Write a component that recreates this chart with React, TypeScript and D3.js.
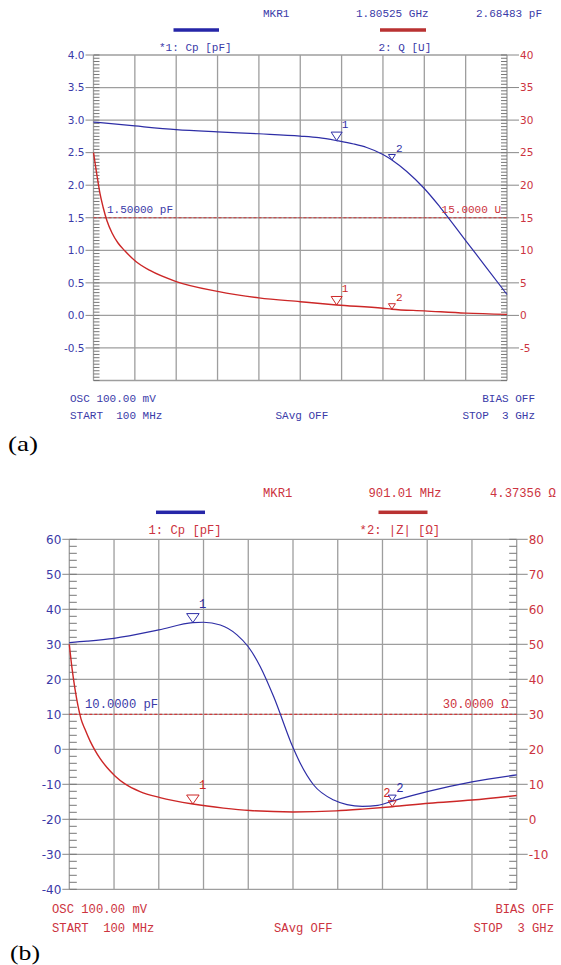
import React from 'react';
import * as d3 from 'd3';

// ---------- data ----------
const FREQ_START = 100; // MHz
const FREQ_STOP = 3000; // MHz
const gridFreqs = [100, 390, 680, 970, 1260, 1550, 1840, 2130, 2420, 2710, 3000];

// Panel (a): Cp [pF] (left axis), Q [U] (right axis)
const cpA_freq = [100, 390, 680, 970, 1260, 1550, 1680, 1805.25, 1925, 2016, 2130, 2193, 2297, 2420, 2530, 2710, 2850, 3000];
const cpA_val = [2.97, 2.91, 2.855, 2.82, 2.79, 2.755, 2.73, 2.685, 2.633, 2.579, 2.472, 2.387, 2.21, 1.949, 1.665, 1.15, 0.751, 0.321];
const qA_freq = [100, 125, 146, 167, 195, 230, 272, 321, 397, 496, 680, 970, 1260, 1550, 1805.25, 2130, 2193, 2420, 2710, 3000];
const qA_val = [25.0, 21.4, 18.65, 16.65, 14.5, 12.66, 11.12, 9.89, 8.28, 6.9, 5.2, 3.7, 2.7, 2.1, 1.6, 1.1, 0.95, 0.7, 0.35, 0.15];
const leftTicksA = [4.0, 3.5, 3.0, 2.5, 2.0, 1.5, 1.0, 0.5, 0.0, -0.5];
const rightTicksA = [40, 35, 30, 25, 20, 15, 10, 5, 0, -5];
const leftDomainA = [-1, 4];
const rightDomainA = [-10, 40];
const refA = 1.5;
const markerFreqA = [1805.25, 2193];

// Panel (b): Cp [pF] (left axis), |Z| [Ω] (right axis)
const cpB_freq = [100, 215, 390, 680, 901.01, 970, 1079, 1187, 1260, 1338, 1425, 1548, 1597, 1684, 1814, 1900, 2000, 2100, 2193, 2420, 2710, 3000];
const cpB_val = [30.5, 30.9, 31.7, 34.1, 36.2, 36.3, 35.5, 32.7, 29.3, 23.6, 15.0, 0.7, -4.0, -10.2, -14.5, -15.8, -16.3, -16.0, -14.8, -12.1, -9.3, -7.3];
const zB_freq = [100, 117.5, 137, 156.4, 175.8, 201.8, 234.2, 266.6, 299, 344.4, 396.3, 461, 558.3, 688, 901.01, 1100, 1271, 1550, 1829, 2000, 2193, 2432, 2710, 3000];
const zB_val = [50, 43.2, 37.2, 32.4, 28.7, 25.7, 22.4, 19.7, 17.4, 14.8, 12.4, 10.1, 7.9, 6.2, 4.37, 3.2, 2.5, 2.1, 2.4, 2.9, 3.6, 4.6, 5.5, 6.8];
const leftTicksB = [60, 50, 40, 30, 20, 10, 0, -10, -20, -30, -40];
const rightTicksB = [80, 70, 60, 50, 40, 30, 20, 10, 0, -10];
const leftDomainB = [-40, 60];
const rightDomainB = [-20, 80];
const refB = 10;
const markerFreqB = [901.01, 2193];

// ---------- style ----------
const BLUE = '#2e2ea6';
const BLUE_T = '#3a3aa8';
const RED = '#cc2727';
const RED_T = '#cc3340';
const GRID = '#9e9e9e';
const MONO = '"Liberation Mono", "DejaVu Sans Mono", monospace';
const SANS = '"DejaVu Sans", Verdana, sans-serif';

type Txt = { t: string; x: number; y: number; anchor?: string; color: string };

function Panel(p: any) {
  const x = d3.scaleLinear().domain([FREQ_START, FREQ_STOP]).range([p.L, p.R]);
  const yl = d3.scaleLinear().domain(p.leftDomain).range([p.B, p.T]);
  const yr = d3.scaleLinear().domain(p.rightDomain).range([p.B, p.T]);
  const lineL = d3.line<number>().x((_, i) => x(p.leftF[i])).y(d => yl(d)).curve(d3.curveMonotoneX);
  const lineR = d3.line<number>().x((_, i) => x(p.rightF[i])).y(d => yr(d)).curve(d3.curveMonotoneX);

  const hLines = d3.range(p.leftDomain[0], p.leftDomain[1] + 1e-9, p.leftStep);
  const minorStep = p.leftStep / p.minorPer;
  const minors = d3.range(p.leftDomain[0], p.leftDomain[1] + 1e-9, minorStep);

  const tri = (cx: number, cy: number, w: number, h: number) =>
    `M${cx - w / 2},${cy - h}L${cx + w / 2},${cy - h}L${cx},${cy}Z`;

  const markers: any[] = [];
  p.markerF.forEach((mf: number, mi: number) => {
    const big = mi === 0;
    const iL = p.leftF.indexOf(mf);
    const iR = p.rightF.indexOf(mf);
    markers.push({ cx: x(mf), cy: yl(p.leftV[iL]), color: BLUE, big, label: String(mi + 1), dx: p.lblDx[0][mi] });
    markers.push({ cx: x(mf), cy: yr(p.rightV[iR]), color: RED, big, label: String(mi + 1), dx: p.lblDx[1][mi] });
  });

  return (
    <g>
      {gridFreqs.map((f, i) => (
        <line key={'v' + i} x1={x(f)} x2={x(f)} y1={p.T} y2={p.B} stroke={GRID} strokeWidth={1.3} />
      ))}
      {hLines.map((v: number, i: number) => (
        <line key={'h' + i} x1={p.L} x2={p.R} y1={yl(v)} y2={yl(v)} stroke={GRID} strokeWidth={1.3} />
      ))}
      {minors.map((v: number, i: number) => (
        <g key={'m' + i}>
          <line x1={p.L} x2={p.L + p.minorLen} y1={yl(v)} y2={yl(v)} stroke="#777" strokeWidth={1} />
          <line x1={p.R - p.minorLen} x2={p.R} y1={yl(v)} y2={yl(v)} stroke="#777" strokeWidth={1} />
        </g>
      ))}
      {p.leftTicks.map((v: number, i: number) => (
        <g key={'lt' + i}>
          <line x1={p.L - p.outL} x2={p.L} y1={yl(v)} y2={yl(v)} stroke="#888" strokeWidth={1} />
          <text x={p.L - p.outL - 1} y={yl(v)} dy="0.36em" textAnchor="end" fill={BLUE_T}
            fontFamily={SANS} fontSize={p.tickFs}>{p.leftFmt(v)}</text>
        </g>
      ))}
      {p.rightTicks.map((v: number, i: number) => (
        <g key={'rt' + i}>
          <line x1={p.R} x2={p.R + p.outR} y1={yr(v)} y2={yr(v)} stroke="#888" strokeWidth={1} />
          <text x={p.R + p.outR + 1} y={yr(v)} dy="0.36em" textAnchor="start" fill={RED_T}
            fontFamily={SANS} fontSize={p.tickFs}>{String(v)}</text>
        </g>
      ))}
      <line x1={p.L} x2={p.R} y1={yl(p.ref)} y2={yl(p.ref)} stroke="#d23a3a" strokeWidth={1.2} strokeDasharray="3,2" />
      <path d={lineL(p.leftV) || ''} fill="none" stroke={BLUE} strokeWidth={1.2} />
      <path d={lineR(p.rightV) || ''} fill="none" stroke={RED} strokeWidth={1.4} />
      {markers.map((m, i) => (
        <g key={'mk' + i}>
          <path d={m.big ? tri(m.cx, m.cy, p.bigW, p.bigH) : tri(m.cx, m.cy, p.smW, p.smH)}
            fill="none" stroke={m.color} strokeWidth={1} />
          <text x={m.cx + m.dx} y={m.cy - (m.big ? p.bigLblDy : p.smLblDy)} fill={m.color}
            fontFamily={MONO} fontSize={p.fs}>{m.label}</text>
        </g>
      ))}
      <rect x={p.bars[0][0]} width={p.bars[0][1] - p.bars[0][0]} y={p.barY - 1.75} height={3.5} fill="#2626a8" />
      <rect x={p.bars[1][0]} width={p.bars[1][1] - p.bars[1][0]} y={p.barY - 1.75} height={3.5} fill="#b93232" />
      {p.texts.map((t: Txt, i: number) => (
        <text key={'t' + i} x={t.x} y={t.y} textAnchor={t.anchor || 'start'} fill={t.color}
          fontFamily={MONO} fontSize={p.fs} style={{ whiteSpace: 'pre' }}>{t.t}</text>
      ))}
      <text x={p.cap[0]} y={p.cap[1]} fontFamily='"Liberation Serif", "Times New Roman", serif' fontSize={21}
        textLength={30} lengthAdjust="spacingAndGlyphs" fill="#000">{p.cap[2]}</text>
    </g>
  );
}

const panelA = {
  L: 93.5, R: 507, T: 55, B: 380.5,
  leftDomain: leftDomainA, rightDomain: rightDomainA, leftStep: 0.5, minorPer: 10, minorLen: 6,
  leftF: cpA_freq, leftV: cpA_val, rightF: qA_freq, rightV: qA_val,
  leftTicks: leftTicksA, rightTicks: rightTicksA, leftFmt: (v: number) => v.toFixed(1),
  outL: 8, outR: 12, tickFs: 10.5, fs: 11, ref: refA, markerF: markerFreqA,
  bigW: 11, bigH: 8.5, smW: 7, smH: 5.5, bigLblDy: 13, smLblDy: 8.5,
  lblDx: [[5, 4], [5, 4]],
  bars: [[173.5, 219], [380, 426]], barY: 30,
  texts: [
    { t: 'MKR1', x: 263, y: 16.5, color: BLUE_T },
    { t: '1.80525 GHz', x: 356, y: 16.5, color: BLUE_T },
    { t: '2.68483 pF', x: 476, y: 16.5, color: BLUE_T },
    { t: '*1: Cp [pF]', x: 159, y: 51, color: BLUE_T },
    { t: '2: Q [U]', x: 378.5, y: 51, color: BLUE_T },
    { t: '1.50000 pF', x: 107, y: 213, color: BLUE_T },
    { t: '15.0000 U', x: 501, y: 213, anchor: 'end', color: RED_T },
    { t: 'OSC 100.00 mV', x: 70, y: 402, color: BLUE_T },
    { t: 'START  100 MHz', x: 70, y: 419, color: BLUE_T },
    { t: 'SAvg OFF', x: 275.5, y: 419, color: BLUE_T },
    { t: 'BIAS OFF', x: 535, y: 402, anchor: 'end', color: BLUE_T },
    { t: 'STOP  3 GHz', x: 535, y: 419, anchor: 'end', color: BLUE_T },
  ],
  cap: [8, 451, '(a)'],
};

const panelB = {
  L: 69.3, R: 516.7, T: 539.3, B: 889.3,
  leftDomain: leftDomainB, rightDomain: rightDomainB, leftStep: 10, minorPer: 5, minorLen: 7.5,
  leftF: cpB_freq, leftV: cpB_val, rightF: zB_freq, rightV: zB_val,
  leftTicks: leftTicksB, rightTicks: rightTicksB, leftFmt: (v: number) => String(v),
  outL: 7, outR: 11, tickFs: 12, fs: 12.2, ref: refB, markerF: markerFreqB,
  bigW: 12.5, bigH: 9, smW: 8, smH: 6, bigLblDy: 15, smLblDy: 9.5,
  lblDx: [[6, 4], [6, -9]],
  bars: [[156, 205], [378.5, 427.5]], barY: 512.3,
  texts: [
    { t: 'MKR1', x: 263, y: 496.5, color: RED_T },
    { t: '901.01 MHz', x: 368.5, y: 496.5, color: RED_T },
    { t: '4.37356 Ω', x: 490, y: 496.5, color: RED_T },
    { t: '1: Cp [pF]', x: 148.5, y: 534, color: RED_T },
    { t: '*2: |Z| [Ω]', x: 359.6, y: 534, color: RED_T },
    { t: '10.0000 pF', x: 85, y: 708, color: BLUE_T },
    { t: '30.0000 Ω', x: 508.5, y: 708, anchor: 'end', color: RED_T },
    { t: 'OSC 100.00 mV', x: 52, y: 913, color: RED_T },
    { t: 'START  100 MHz', x: 52, y: 931.5, color: RED_T },
    { t: 'SAvg OFF', x: 274, y: 931.5, color: RED_T },
    { t: 'BIAS OFF', x: 554, y: 913, anchor: 'end', color: RED_T },
    { t: 'STOP  3 GHz', x: 554, y: 931.5, anchor: 'end', color: RED_T },
  ],
  cap: [10, 960, '(b)'],
};

export default function App() {
  return (
    <div style={{ position: 'absolute', left: 0, top: 0 }}>
      <svg width={561} height={965} viewBox="0 0 561 965" style={{ display: 'block', background: '#fff' }}>
        <rect x={0} y={0} width={561} height={965} fill="#fff" />
        <Panel {...panelA} />
        <Panel {...panelB} />
      </svg>
    </div>
  );
}
